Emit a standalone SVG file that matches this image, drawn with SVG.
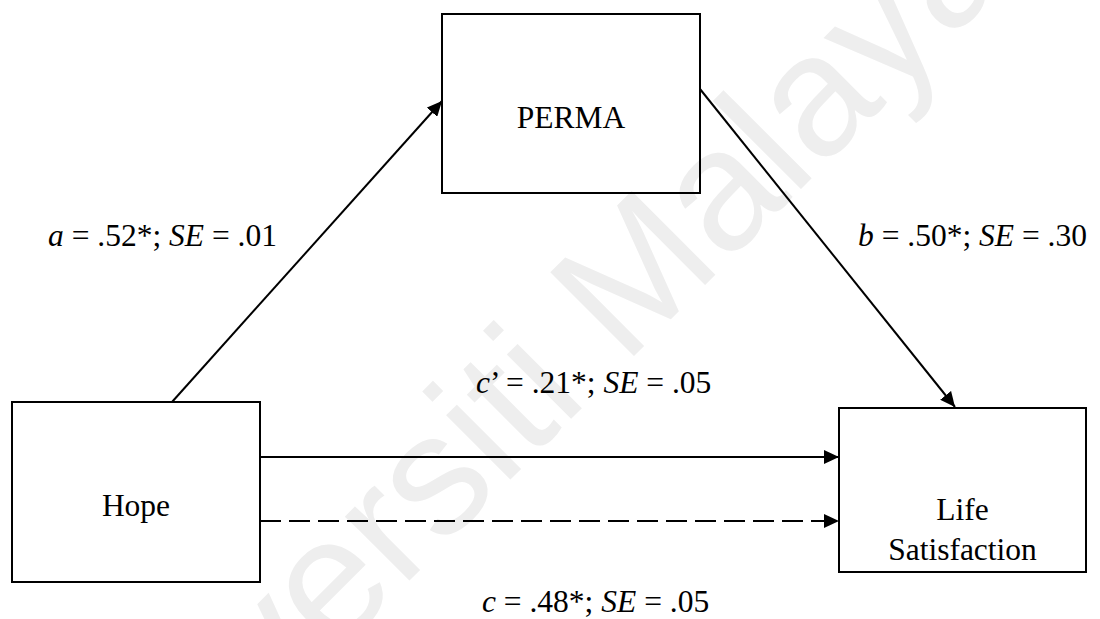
<svg xmlns="http://www.w3.org/2000/svg" width="1100" height="619" viewBox="0 0 1100 619">
<style>
.box{fill:none;stroke:#000;stroke-width:2}
.lbl{font-family:"Liberation Serif","Times New Roman",Times,serif;font-size:31.5px;fill:#000}
.it{font-style:italic}
.edge{stroke:#000;stroke-width:2;fill:none}
.dash{stroke-dasharray:21 8}
.wm{font-family:"Liberation Sans",Arial,sans-serif;font-size:172px;fill:#eeeeee}
</style>
<defs>
<marker id="arr" markerUnits="userSpaceOnUse" viewBox="0 0 15 14" refX="15" refY="7" markerWidth="15" markerHeight="14" orient="auto">
<path d="M0,0 L15,7 L0,14 z" fill="#000"/>
</marker>
</defs>
<rect width="1100" height="619" fill="#fff"/>
<g id="watermark">
<text class="wm" transform="translate(90 900) rotate(-45)">Universiti Malaya</text>
</g>
<g id="connectors">
<line class="edge" x1="172" y1="402" x2="442" y2="101" marker-end="url(#arr)"/>
<line class="edge" x1="700" y1="89" x2="955" y2="407" marker-end="url(#arr)"/>
<line class="edge" x1="260" y1="457" x2="839" y2="457" marker-end="url(#arr)"/>
<line class="edge dash" x1="260" y1="521" x2="839" y2="521" marker-end="url(#arr)"/>
</g>
<g id="node-hope">
<rect class="box" x="12" y="402" width="248" height="180"/>
<text class="lbl" x="136" y="516" text-anchor="middle">Hope</text>
</g>
<g id="node-perma">
<rect class="box" x="442" y="14" width="258" height="179"/>
<text class="lbl" x="571" y="128" text-anchor="middle">PERMA</text>
</g>
<g id="node-life">
<rect class="box" x="839" y="408" width="247" height="164"/>
<text class="lbl" x="962.5" y="520" text-anchor="middle">Life</text>
<text class="lbl" x="962.5" y="560" text-anchor="middle">Satisfaction</text>
</g>
<g id="labels">
<text class="lbl" x="48" y="246"><tspan class="it">a</tspan> = .52*; <tspan class="it">SE</tspan> = .01</text>
<text class="lbl" x="858" y="246"><tspan class="it">b</tspan> = .50*; <tspan class="it">SE</tspan> = .30</text>
<text class="lbl" x="476" y="393"><tspan class="it">c</tspan>’ = .21*; <tspan class="it">SE</tspan> = .05</text>
<text class="lbl" x="482" y="612"><tspan class="it">c</tspan> = .48*; <tspan class="it">SE</tspan> = .05</text>
</g>
</svg>
